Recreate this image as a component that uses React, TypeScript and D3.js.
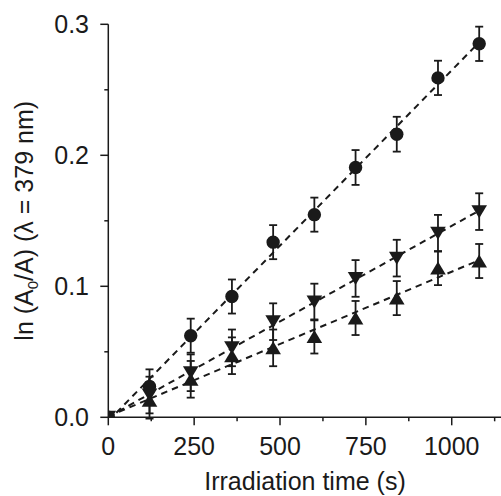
import React from "react";
import * as d3 from "d3";

// ---- data ----
const timeValues = [0, 120, 240, 360, 480, 600, 720, 840, 960, 1080];
const circleValues = [0, 0.0236, 0.0623, 0.0922, 0.1337, 0.1547, 0.1907, 0.2161, 0.2591, 0.2851];
const circleErrors = [0, 0.013, 0.013, 0.013, 0.013, 0.013, 0.0133, 0.0133, 0.0131, 0.0131];
const downValues = [0, 0.017, 0.034, 0.053, 0.073, 0.088, 0.106, 0.1215, 0.1405, 0.157];
const downErrors = [0, 0.014, 0.014, 0.014, 0.014, 0.014, 0.014, 0.014, 0.014, 0.014];
const upValues = [0, 0.013, 0.029, 0.047, 0.053, 0.0617, 0.0758, 0.091, 0.1139, 0.1193];
const upErrors = [0, 0.014, 0.014, 0.014, 0.014, 0.013, 0.013, 0.013, 0.013, 0.013];

const xTicks = [0, 250, 500, 750, 1000];
const xMinorTicks = [125, 375, 625, 875, 1125];
const yTicks = [0, 0.1, 0.2, 0.3];
const yMinorTicks = [0.05, 0.15, 0.25];

const W = 501;
const H = 496;
const FONT = "'Liberation Sans', Arial, Helvetica, sans-serif";
const INK = "#1a1a1a";

const x = d3.scaleLinear().domain([0, 1140]).range([108.3, 499.8]);
const y = d3.scaleLinear().domain([0, 0.3]).range([417.3, 24.3]);

function fit(xs: number[], ys: number[]) {
  const mx = d3.mean(xs) as number;
  const my = d3.mean(ys) as number;
  let sxy = 0, sxx = 0;
  xs.forEach((v, i) => {
    sxy += (v - mx) * (ys[i] - my);
    sxx += (v - mx) * (v - mx);
  });
  const slope = sxy / sxx;
  return { slope, intercept: my - slope * mx };
}

type Kind = "circle" | "down" | "up";

function markerPath(kind: Kind, cx: number, cy: number): string {
  if (kind === "circle") {
    const p = d3.path();
    p.arc(cx, cy, 6.7, 0, Math.PI * 2);
    p.closePath();
    return p.toString();
  }
  const hw = 7.8, hh = 6.5;
  const pts: [number, number][] =
    kind === "up"
      ? [[cx, cy - hh], [cx + hw, cy + hh], [cx - hw, cy + hh]]
      : [[cx - hw, cy - hh], [cx + hw, cy - hh], [cx, cy + hh]];
  return (d3.line()(pts) as string) + "Z";
}

const series: { kind: Kind; values: number[]; errors: number[] }[] = [
  { kind: "circle", values: circleValues, errors: circleErrors },
  { kind: "down", values: downValues, errors: downErrors },
  { kind: "up", values: upValues, errors: upErrors },
];

export default function App() {
  const x0 = x.range()[0];
  const x1 = x.range()[1];
  const y0 = y.range()[0];
  const y1 = y.range()[1];
  const lineGen = d3.line<number>().x((d) => x(d)).y((d) => y(d));

  return (
    <svg
      width={W}
      height={H}
      viewBox={`0 0 ${W} ${H}`}
      style={{ position: "absolute", left: 0, top: 0, background: "#fff" }}
      fontFamily={FONT}
    >
      <defs>
        <clipPath id="plot">
          <rect x={x0} y={y1 - 10} width={x1 - x0} height={y0 - y1 + 10} />
        </clipPath>
      </defs>

      {/* fit lines */}
      <g clipPath="url(#plot)">
        {series.map((s) => {
          const f = fit(timeValues, s.values);
          const ends = [0, 1080];
          const pts: [number, number][] = ends.map((t) => [x(t), y(f.intercept + f.slope * t)]);
          return (
            <path
              key={"fit-" + s.kind}
              d={d3.line()(pts) as string}
              fill="none"
              stroke={INK}
              strokeWidth={2}
              strokeDasharray="6.5,5"
            />
          );
        })}
      </g>

      {/* error bars */}
      <g stroke={INK} strokeWidth={1.8} fill="none">
        {series.map((s) =>
          timeValues.map((t, i) => {
            const e = s.errors[i];
            if (!e) return null;
            const cx = x(t);
            const top = y(s.values[i] + e);
            const bot = y(s.values[i] - e);
            return (
              <g key={s.kind + "-e-" + i}>
                <line x1={cx} x2={cx} y1={top} y2={bot} />
                <line x1={cx - 4} x2={cx + 4} y1={top} y2={top} />
                <line x1={cx - 4} x2={cx + 4} y1={bot} y2={bot} />
              </g>
            );
          })
        )}
      </g>

      {/* markers */}
      <g clipPath="url(#plot)" fill={INK}>
        {series.map((s) =>
          timeValues.map((t, i) => (
            <path key={s.kind + "-m-" + i} d={markerPath(s.kind, x(t), y(s.values[i]))} />
          ))
        )}
      </g>

      {/* axes */}
      <g stroke={INK} strokeWidth={1.5}>
        <line x1={x0} x2={x1 + 2} y1={y0} y2={y0} />
        <line x1={x0} x2={x0} y1={y1} y2={y0} />
        {xTicks.map((t) => (
          <line key={"xt" + t} x1={x(t)} x2={x(t)} y1={y0} y2={y0 + 8} />
        ))}
        {xMinorTicks.map((t) => (
          <line key={"xm" + t} x1={x(t)} x2={x(t)} y1={y0} y2={y0 + 4} />
        ))}
        {yTicks.map((t) => (
          <line key={"yt" + t} x1={x0 - 8} x2={x0} y1={y(t)} y2={y(t)} />
        ))}
        {yMinorTicks.map((t) => (
          <line key={"ym" + t} x1={x0 - 4} x2={x0} y1={y(t)} y2={y(t)} />
        ))}
      </g>

      <g fontSize={25} fill={INK}>
        {xTicks.map((t) => (
          <text key={"xl" + t} x={x(t)} y={455} textAnchor="middle">
            {d3.format("d")(t)}
          </text>
        ))}
        {yTicks.map((t) => (
          <text key={"yl" + t} x={89} y={y(t)} dy="0.36em" textAnchor="end">
            {d3.format(".1f")(t)}
          </text>
        ))}
        <text x={305} y={490} textAnchor="middle">
          Irradiation time (s)
        </text>
        <text transform={`translate(33, ${(y0 + y1) / 2}) rotate(-90)`} textAnchor="middle">
          ln (A<tspan dy="5" fontSize={15}>0</tspan>
          <tspan dy="-5">/A) (λ = 379 nm)</tspan>
        </text>
      </g>
    </svg>
  );
}
